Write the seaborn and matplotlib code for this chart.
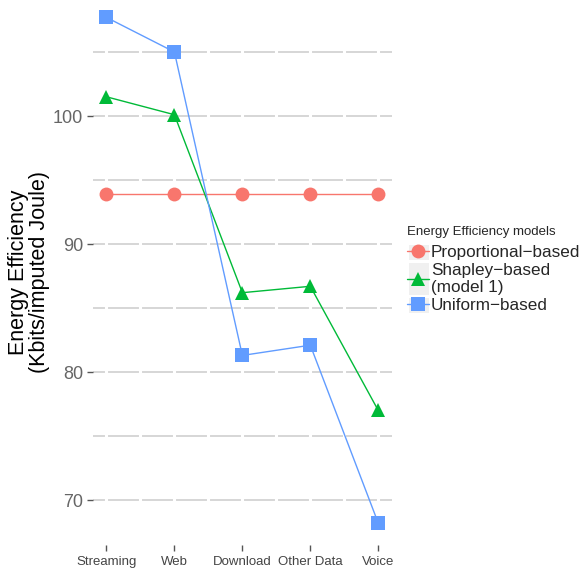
import pandas as pd
import seaborn as sns
import matplotlib.pyplot as plt
from matplotlib.lines import Line2D
from matplotlib.patches import Rectangle

# Data
categories = ["Streaming", "Web", "Download", "Other Data", "Voice"]
proportional = [93.9, 93.9, 93.9, 93.9, 93.9]
shapley = [101.5, 100.1, 86.2, 86.7, 77.0]
uniform = [107.7, 105.0, 81.3, 82.1, 68.2]
models = ["Proportional\u2212based", "Shapley\u2212based\n(model 1)", "Uniform\u2212based"]
colors = ["#F8766D", "#00BA38", "#619CFF"]
marker_shapes = ["o", "^", "s"]

rows = []
for model, vals in zip(models, [proportional, shapley, uniform]):
    for i, (cat, v) in enumerate(zip(categories, vals)):
        rows.append({"pos": i, "category": cat, "model": model, "value": v})
df = pd.DataFrame(rows)

sns.set_style("white")
plt.rcParams["font.family"] = ["Liberation Sans", "DejaVu Sans"]

fig = plt.figure(figsize=(5.84, 5.70), dpi=100)
ax = fig.add_axes([0.159, 0.044, 0.512, 0.956])

# ggplot-like grid: gray horizontal lines, broken by white vertical ones
for y in [70, 75, 80, 85, 90, 95, 100, 105]:
    ax.axhline(y, color="#cccccc", lw=1.1, zorder=0)
for x in [i * 0.5 for i in range(-1, 10)]:
    ax.axvline(x, color="white", lw=2.2, zorder=0.5)

sns.lineplot(data=df, x="pos", y="value", hue="model", style="model",
             palette=dict(zip(models, colors)),
             markers=dict(zip(models, marker_shapes)), dashes=False,
             markersize=10, markeredgewidth=0, linewidth=1, ax=ax,
             legend=False, zorder=3)

ax.set_xlim(-0.2, 4.2)
ax.set_ylim(66.5, 109.06)
ax.set_xticks(range(len(categories)))
ax.set_xticklabels(categories, fontsize=9.5, color="#444444")
ax.set_yticks([70, 80, 90, 100])
ax.set_yticklabels(["70", "80", "90", "100"], fontsize=13, color="#666666")
ax.tick_params(axis="both", length=4, width=1, color="#555555", pad=3,
               bottom=True, left=True)
ax.tick_params(axis="x", pad=4)
for s in ax.spines.values():
    s.set_visible(False)
ax.set_xlabel("")
ax.set_ylabel("Energy Efficiency\n(Kbits/imputed Joule)", fontsize=15.5,
              color="black", labelpad=2, linespacing=1.0)

handles = [Line2D([], [], color=c, marker=m, markersize=10, markeredgewidth=0, lw=1)
           for c, m in zip(colors, marker_shapes)]
leg = fig.legend(handles, models, title="Energy Efficiency models",
                 loc="upper left", bbox_to_anchor=(0.685, 0.616),
                 frameon=False, fontsize=12.3, title_fontsize=9.5,
                 handlelength=1.3, handletextpad=0.1, labelspacing=0.22,
                 borderaxespad=0, alignment="left")
leg._legend_box.sep = 5
for t in leg.get_texts():
    t.set_linespacing(1.1)

# gray key backgrounds like ggplot legend keys
fig.canvas.draw()
renderer = fig.canvas.get_renderer()
inv = fig.transFigure.inverted()
for t in leg.get_texts():
    tb = t.get_window_extent(renderer)
    x0, y0 = inv.transform((tb.x0 - 22, tb.y0))
    x1, y1 = inv.transform((tb.x0 - 2, tb.y1))
    fig.patches.append(Rectangle((x0, y0), x1 - x0, y1 - y0, transform=fig.transFigure,
                                 facecolor="#f0f0f0", edgecolor="none", zorder=-1))

fig.savefig("out.png", dpi=100)
